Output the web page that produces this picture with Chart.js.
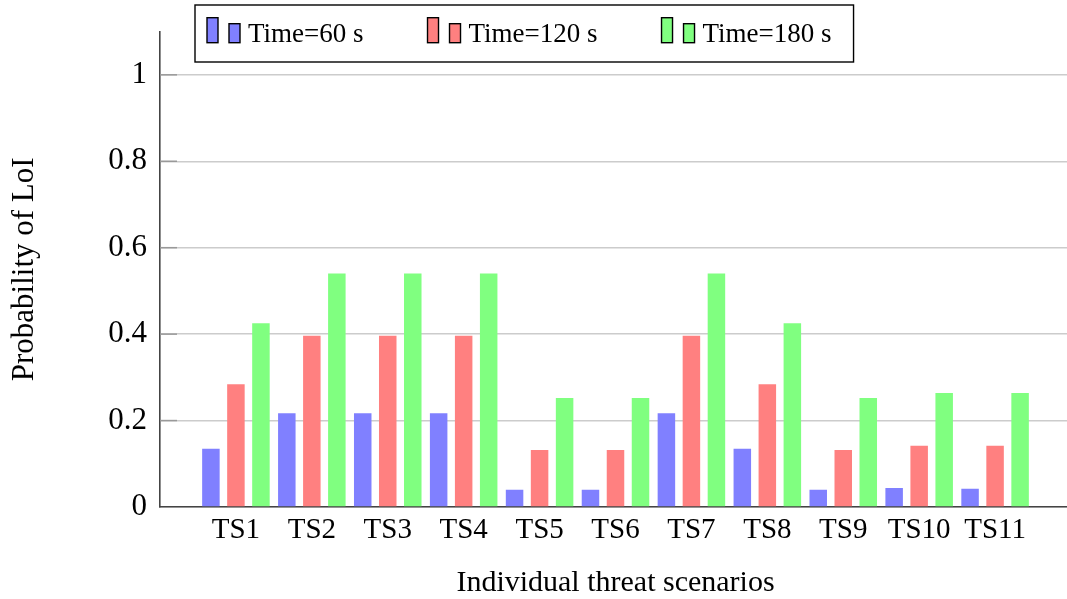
<!DOCTYPE html>
<html>
<head>
<meta charset="utf-8">
<script src="https://cdn.jsdelivr.net/npm/chart.js@4.4.1/dist/chart.umd.min.js"></script>
<style>
  html, body { margin: 0; padding: 0; background: #fff; overflow: hidden; width: 1067px; height: 599px; }
  #wrap { position: absolute; left: 0; top: 0; width: 1071px; height: 599px; }
</style>
</head>
<body>
<div id="wrap"><canvas id="c" width="1071" height="599"></canvas></div>
<script>
// Threat scenarios on the x axis
const scenarios = ['TS1', 'TS2', 'TS3', 'TS4', 'TS5', 'TS6', 'TS7', 'TS8', 'TS9', 'TS10', 'TS11'];

// Probability of loss of integrity after each elapsed time
const p60  = [0.135, 0.217, 0.217, 0.217, 0.040, 0.040, 0.217, 0.135, 0.040, 0.044, 0.042];
const p120 = [0.284, 0.396, 0.396, 0.396, 0.132, 0.132, 0.396, 0.284, 0.132, 0.142, 0.142];
const p180 = [0.425, 0.540, 0.540, 0.540, 0.252, 0.252, 0.540, 0.425, 0.252, 0.264, 0.264];

const seriesLabels = ['Time=60 s', 'Time=120 s', 'Time=180 s'];
const yTicks = [0, 0.2, 0.4, 0.6, 0.8, 1];

const SERIF = '"Liberation Serif", "Times New Roman", serif';

const toPoints = arr => arr.map((v, i) => ({ x: i + 1, y: v }));

// Inward tick marks on the value axis
const yTickMarks = {
  id: 'yTickMarks',
  beforeDatasetsDraw(chart) {
    const { ctx, chartArea, scales } = chart;
    const y = scales.y;
    ctx.save();
    ctx.strokeStyle = '#999999';
    ctx.lineWidth = 1.5;
    y.ticks.forEach(t => {
      if (t.value === 0) return;
      const py = y.getPixelForValue(t.value);
      ctx.beginPath();
      ctx.moveTo(chartArea.left, py);
      ctx.lineTo(chartArea.left + 17, py);
      ctx.stroke();
    });
    ctx.restore();
  }
};

// Boxed legend with a pair of swatches per series
const boxedLegend = {
  id: 'boxedLegend',
  afterDraw(chart) {
    const ctx = chart.ctx;
    ctx.save();
    ctx.font = '27px ' + SERIF;
    const top = 5, bottom = 62, left = 195, baseline = 42;
    const swBottom = 42.7;
    let x = left + 12;
    const entries = chart.data.datasets.map(ds => {
      const w = ctx.measureText(ds.label).width;
      const e = { x, color: ds.backgroundColor, label: ds.label, textX: x + 41, w };
      x = x + 41 + w + 64;
      return e;
    });
    const last = entries[entries.length - 1];
    const right = last.textX + last.w + 22;

    ctx.fillStyle = '#ffffff';
    ctx.fillRect(left, top, right - left, bottom - top);
    ctx.strokeStyle = '#000000';
    ctx.lineWidth = 1.4;
    ctx.strokeRect(left, top, right - left, bottom - top);

    entries.forEach(e => {
      ctx.fillStyle = e.color;
      ctx.strokeStyle = '#000000';
      ctx.lineWidth = 1.4;
      ctx.fillRect(e.x, swBottom - 25, 11, 25);
      ctx.strokeRect(e.x, swBottom - 25, 11, 25);
      ctx.fillRect(e.x + 22, swBottom - 19, 11, 19);
      ctx.strokeRect(e.x + 22, swBottom - 19, 11, 19);
      ctx.fillStyle = '#000000';
      ctx.textBaseline = 'alphabetic';
      ctx.textAlign = 'left';
      ctx.fillText(e.label, e.textX, baseline);
    });
    ctx.restore();
  }
};

const barStyle = { categoryPercentage: 0.9885, barPercentage: 0.7, borderWidth: 0 };

new Chart(document.getElementById('c'), {
  type: 'bar',
  data: {
    datasets: [
      { label: seriesLabels[0], data: toPoints(p60),  backgroundColor: '#8080ff', ...barStyle },
      { label: seriesLabels[1], data: toPoints(p120), backgroundColor: '#ff8080', ...barStyle },
      { label: seriesLabels[2], data: toPoints(p180), backgroundColor: '#80ff80', ...barStyle }
    ]
  },
  options: {
    responsive: false,
    animation: false,
    events: [],
    layout: { padding: { top: 28, left: 0, right: 0, bottom: 0 } },
    plugins: {
      legend: { display: false },
      tooltip: { enabled: false }
    },
    scales: {
      x: {
        type: 'linear',
        min: 0,
        max: 12,
        offset: false,
        z: 1,
        afterBuildTicks: s => { s.ticks = scenarios.map((_, i) => ({ value: i + 1 })); },
        afterFit: s => { s.height = 92; },
        grid: { display: false, drawTicks: false },
        border: { display: true, color: '#444444', width: 1.6 },
        ticks: {
          autoSkip: false,
          maxRotation: 0,
          padding: 6,
          color: '#000000',
          font: { family: SERIF, size: 29 },
          callback: v => scenarios[Math.round(v) - 1]
        },
        title: {
          display: true,
          text: 'Individual threat scenarios',
          color: '#000000',
          font: { family: SERIF, size: 30, lineHeight: 1.0 },
          padding: { top: 0, bottom: 1 }
        }
      },
      y: {
        min: 0,
        max: 1.1,
        afterBuildTicks: s => { s.ticks = yTicks.map(v => ({ value: v })); },
        afterFit: s => { s.width = 160; },
        grid: { color: '#cccccc', lineWidth: 1.4, drawTicks: false },
        border: { display: true, color: '#444444', width: 1.6 },
        ticks: {
          padding: 13,
          color: '#000000',
          font: { family: SERIF, size: 31 },
          callback: v => String(Math.round(v * 10) / 10)
        },
        title: {
          display: true,
          text: 'Probability of LoI',
          color: '#000000',
          font: { family: SERIF, size: 31, lineHeight: 1.2 },
          padding: { top: 6, bottom: 0 }
        }
      }
    }
  },
  plugins: [yTickMarks, boxedLegend]
});
</script>
</body>
</html>
